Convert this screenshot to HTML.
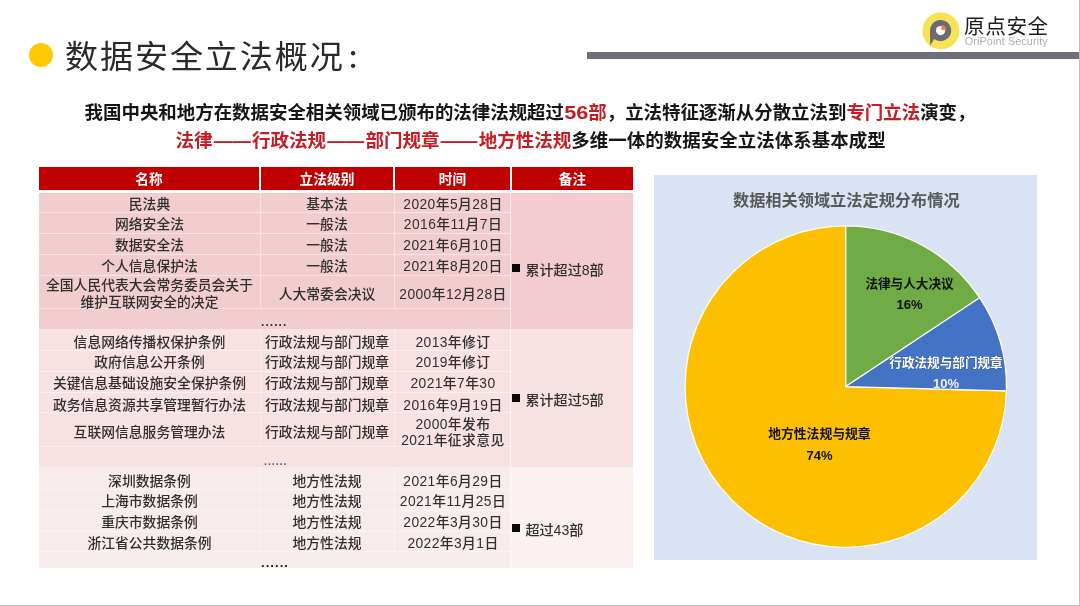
<!DOCTYPE html>
<html lang="zh-CN">
<head>
<meta charset="utf-8">
<title>数据安全立法概况</title>
<style>
html,body{margin:0;padding:0;background:#fff;}
body{width:1080px;height:606px;position:relative;overflow:hidden;font-family:"Liberation Sans","Noto Sans CJK SC",sans-serif;color:#222;}
.abs{position:absolute;}
.wrap{left:0;top:0;width:1080px;height:606px;filter:blur(0.4px);}
.edge-r{left:1079px;top:0;width:1px;height:606px;background:#c0c0c0;}
.edge-b{left:0;top:604.8px;width:1080px;height:1.2px;background:#c4c4c4;}
.bullet{left:29px;top:43px;width:24px;height:24px;border-radius:50%;background:#fec803;}
.title{font-family:"Noto Sans CJK SC","Liberation Sans",sans-serif;left:64.9px;top:32.4px;height:44px;line-height:44px;font-size:31.5px;letter-spacing:1.8px;transform:scaleX(1.05);transform-origin:0 50%;color:#2a2a2a;font-weight:400;white-space:nowrap;}
.bar{left:587px;top:52px;width:520px;height:7px;background:#6e6f78;}
.logo-cn{left:964px;top:13.4px;font-size:20.6px;line-height:28px;letter-spacing:0.6px;color:#1c1c1c;font-weight:400;white-space:nowrap;}
.logo-en{left:964.8px;top:35.3px;font-size:10.8px;line-height:12px;color:#b0b0b3;white-space:nowrap;letter-spacing:0.12px;}
.lead{text-align:left;font-size:18.45px;line-height:26px;font-weight:700;color:#161616;white-space:nowrap;}
.lead b{color:#c61c24;font-weight:700;}
.l1{top:99.5px;left:84.6px;}
.l2{top:127.6px;left:175.6px;font-size:18.5px;}
.lead i{font-style:normal;margin:0 1.2px;}
.lead u{text-decoration:none;display:inline-block;transform:scaleX(1.18);margin:0 1.9px;}
/* table */
.tbl{left:39px;top:167px;width:594px;height:401px;font-size:13.8px;color:#303030;font-weight:500;}
.th{position:absolute;top:0;height:22.5px;padding-top:1px;box-sizing:border-box;background:#c00000;color:#fff;font-weight:700;font-size:13.7px;line-height:23px;text-align:center;}
.sec{position:absolute;left:0;width:594px;}
.s1{background:#f1cdd0;}
.s1 .note{background:#f3cbd1;}
.s2{background:#f8e1e2;}
.s3{background:#f7ecec;}
.s3 .note{background:#fbf1f0;}
.r{position:absolute;left:0;width:472px;border-bottom:1px solid rgba(255,255,255,.45);box-sizing:border-box;}
.c{position:absolute;top:0;height:100%;display:flex;align-items:center;justify-content:center;text-align:center;line-height:16.4px;white-space:nowrap;box-sizing:border-box;padding-top:calc(4.8px + 2*var(--dy,0px));}
.c1{left:0;width:221px;}
.c2{left:221px;width:134px;padding-right:1px;border-left:1px solid rgba(255,255,255,.42);}
.c3{left:355px;width:117px;letter-spacing:0.42px;border-left:1px solid rgba(255,255,255,.42);}
.note{position:absolute;left:471.4px;width:122.6px;top:0;height:100%;border-left:1px solid rgba(255,255,255,.6);box-sizing:border-box;}
.note span{position:absolute;left:0.4px;white-space:nowrap;line-height:18px;font-size:14.1px;margin-top:-0.2px;}
.note i{display:inline-block;width:8px;height:8px;background:#0a0a0a;margin-right:5.6px;vertical-align:3px;}
.dots{position:absolute;left:222px;font-weight:700;letter-spacing:1.05px;line-height:10px;font-size:12px;color:#333;}
/* chart */
.chart{left:654px;top:175px;width:383px;height:385px;background:#dae3f3;}
</style>
</head>
<body>
<div class="abs wrap">
<div class="abs bullet"></div>
<div class="abs title">数据安全立法概况<span style="margin-left:3.5px">:</span></div>
<div class="abs bar"></div>

<svg class="abs" style="left:920px;top:10px" width="42" height="42" viewBox="0 0 42 42">
  <circle cx="20.9" cy="20.9" r="18.5" fill="#f7e254"/>
  <path d="M10.2 35.3 L10 20.5 A10.6 10.6 0 1 1 14.4 29.1 Z" fill="#6a6b76"/>
  <circle cx="20.6" cy="20.6" r="4.6" fill="#fff"/>
  <path d="M21.8 19.7 L21.8 15.6 A4.1 4.1 0 0 1 25.9 19.7 Z" fill="#f58220" stroke="#f58220" stroke-width="0.6" stroke-linejoin="round"/>
</svg>
<div class="abs logo-cn">原点安全</div>
<div class="abs logo-en">OriPoint Security</div>

<div class="abs lead l1">我国中央和地方在数据安全相关领域已颁布的法律法规超过<b><u>56</u>部</b>，立法特征逐渐从分散立法到<b>专门立法</b>演变，</div>
<div class="abs lead l2"><b>法律<i>——</i>行政法规<i>——</i>部门规章<i>——</i>地方性法规</b>多维一体的数据安全立法体系基本成型</div>

<div class="abs tbl">
  <div class="th" style="left:0px;width:220px">名称</div>
  <div class="th" style="left:222px;width:132px">立法级别</div>
  <div class="th" style="left:356px;width:115px">时间</div>
  <div class="th" style="left:473px;width:121px">备注</div>
  <div class="sec s1" style="top:26.3px;height:136.1px;z-index:2">
    <div class="r" style="top:0.0px;height:19.9px"><div class="c c1">民法典</div><div class="c c2">基本法</div><div class="c c3">2020年5月28日</div></div>
    <div class="r" style="top:19.4px;height:21.6px"><div class="c c1">网络安全法</div><div class="c c2">一般法</div><div class="c c3">2016年11月7日</div></div>
    <div class="r" style="top:40.5px;height:21.5px"><div class="c c1">数据安全法</div><div class="c c2">一般法</div><div class="c c3">2021年6月10日</div></div>
    <div class="r" style="top:61.5px;height:21.0px"><div class="c c1">个人信息保护法</div><div class="c c2">一般法</div><div class="c c3">2021年8月20日</div></div>
    <div class="r" style="top:82.0px;height:34.0px;--dy:1px"><div class="c c1" style="line-height:17px;--dy:0px">全国人民代表大会常务委员会关于<br>维护互联网安全的决定</div><div class="c c2">人大常委会决议</div><div class="c c3">2000年12月28日</div></div>
    <div class="dots" style="top:123.7px">......</div>
    <div class="note"><span style="top:68.2px"><i></i>累计超过8部</span></div>
  </div>
  <div class="sec s2" style="top:161.6px;height:138.7px;z-index:1">
    <div class="r" style="top:0.0px;height:22.8px;--dy:1px"><div class="c c1">信息网络传播权保护条例</div><div class="c c2">行政法规与部门规章</div><div class="c c3">2013年修订</div></div>
    <div class="r" style="top:22.3px;height:21.1px"><div class="c c1">政府信息公开条例</div><div class="c c2">行政法规与部门规章</div><div class="c c3">2019年修订</div></div>
    <div class="r" style="top:42.9px;height:21.3px"><div class="c c1">关键信息基础设施安全保护条例</div><div class="c c2">行政法规与部门规章</div><div class="c c3">2021年7年30</div></div>
    <div class="r" style="top:63.7px;height:21.0px;--dy:2px"><div class="c c1">政务信息资源共享管理暂行办法</div><div class="c c2">行政法规与部门规章</div><div class="c c3">2016年9月19日</div></div>
    <div class="r" style="top:84.2px;height:34.4px;--dy:1px"><div class="c c1">互联网信息服务管理办法</div><div class="c c2">行政法规与部门规章</div><div class="c c3" style="line-height:16px;--dy:1px">2000年发布<br>2021年征求意见</div></div>
    <div class="dots" style="top:127.6px;left:225px;font-size:10.5px;color:#5a5a5a;letter-spacing:1px">......</div>
    <div class="note"><span style="top:62.9px"><i></i>累计超过5部</span></div>
  </div>
  <div class="sec s3" style="top:299.8px;height:100.8px">
    <div class="r" style="top:0.0px;height:23.2px;--dy:2px"><div class="c c1">深圳数据条例</div><div class="c c2">地方性法规</div><div class="c c3">2021年6月29日</div></div>
    <div class="r" style="top:22.7px;height:21.5px"><div class="c c1">上海市数据条例</div><div class="c c2">地方性法规</div><div class="c c3">2021年11月25日</div></div>
    <div class="r" style="top:43.7px;height:21.1px"><div class="c c1">重庆市数据条例</div><div class="c c2">地方性法规</div><div class="c c3">2022年3月30日</div></div>
    <div class="r" style="top:64.3px;height:21.3px;--dy:1px"><div class="c c1">浙江省公共数据条例</div><div class="c c2">地方性法规</div><div class="c c3">2022年3月1日</div></div>
    <div class="dots" style="top:91.4px;font-size:13px;color:#222">......</div>
    <div class="note"><span style="top:53.9px"><i></i>超过43部</span></div>
  </div>
</div>

<div class="abs chart">
<svg width="383" height="385" viewBox="0 0 383 385" style="position:absolute;left:0;top:0;font-family:'Liberation Sans','Noto Sans CJK SC',sans-serif">
  <text x="192.3" y="31" text-anchor="middle" font-size="16.2" font-weight="700" fill="#595959">数据相关领域立法定规分布情况</text>
  <g stroke="#fffdf0" stroke-width="1.25" stroke-linejoin="round">
    <path d="M191.8 211.6 L352.44 215.81 A160.7 160.7 0 1 1 191.80 50.90 Z" fill="#fcc000"/>
    <path d="M191.8 211.6 L191.80 50.90 A160.7 160.7 0 0 1 325.65 122.67 Z" fill="#6fac46"/>
    <path d="M191.8 211.6 L325.65 122.67 A160.7 160.7 0 0 1 352.44 215.81 Z" fill="#4472c4"/>
  </g>
  <g font-weight="700" text-anchor="middle" font-size="12.6">
    <text x="255.5" y="112.5" fill="#111">法律与人大决议</text>
    <text x="255.5" y="134" fill="#111" font-size="13">16%</text>
    <text x="292" y="191.5" fill="#fff" stroke="#26407a" stroke-width="0.5" paint-order="stroke">行政法规与部门规章</text>
    <text x="292" y="212.5" fill="#e9effa" font-size="13">10%</text>
    <text x="165.4" y="263.3" fill="#111" font-size="12.8">地方性法规与规章</text>
    <text x="165.5" y="285" fill="#111" font-size="13">74%</text>
  </g>
</svg>
</div>

</div>
<div class="abs edge-r"></div>
<div class="abs edge-b"></div>
</body>
</html>
